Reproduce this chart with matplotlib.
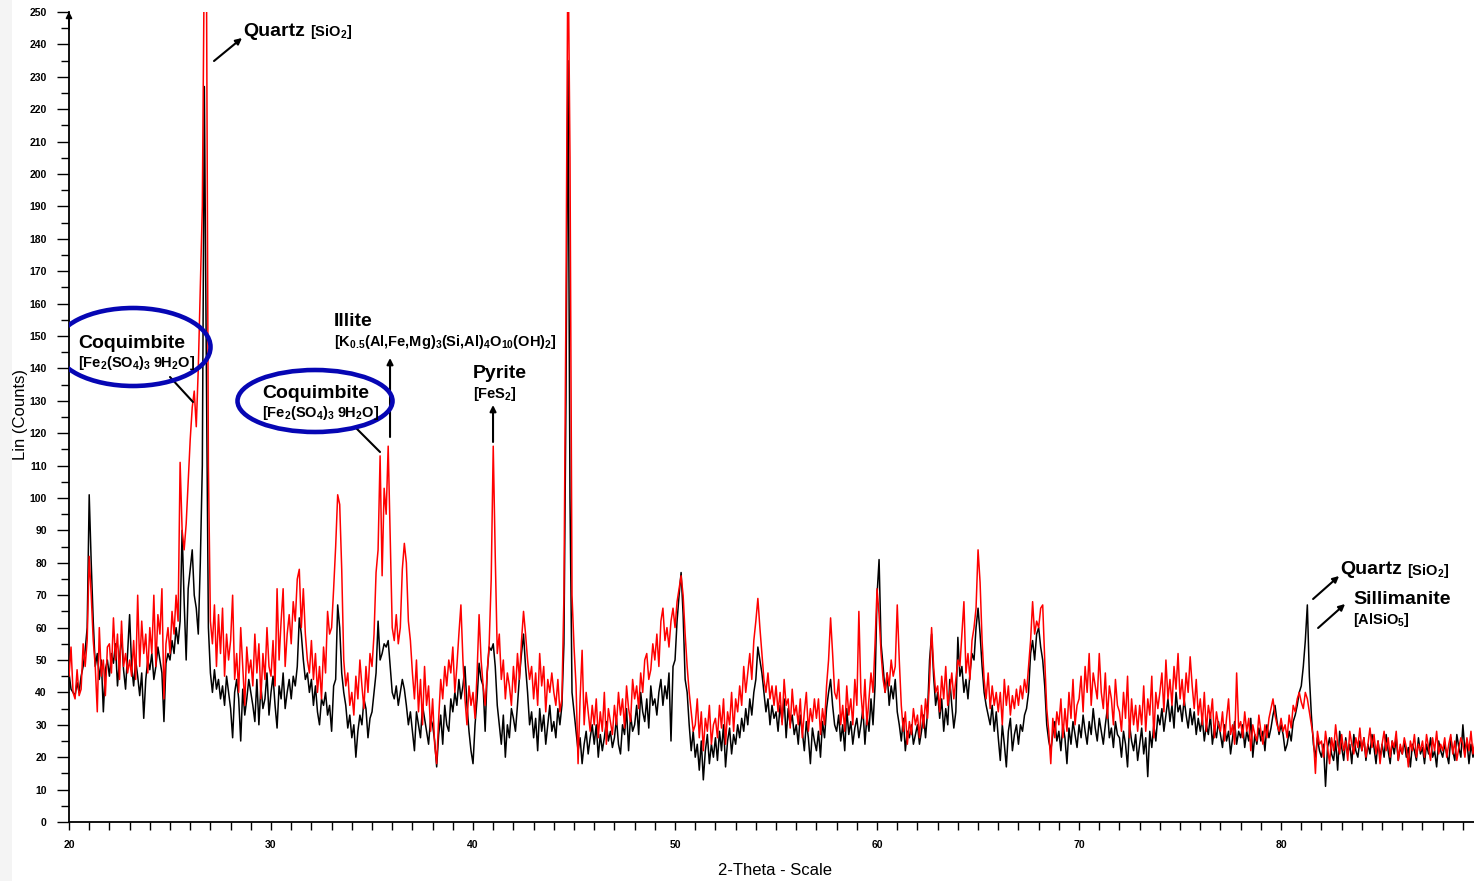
import numpy as np
import matplotlib
matplotlib.use("Agg")
import matplotlib.pyplot as plt
from matplotlib.patches import Ellipse, Rectangle
from matplotlib.ticker import MultipleLocator

plt.rcParams['font.family'] = ['Liberation Sans', 'DejaVu Sans']
plt.rcParams['mathtext.fontset'] = 'custom'
plt.rcParams['mathtext.rm'] = 'Liberation Sans:bold'
plt.rcParams['mathtext.bf'] = 'Liberation Sans:bold'
plt.rcParams['mathtext.it'] = 'Liberation Sans:bold'
plt.rcParams['mathtext.default'] = 'bf'

# ---- data: 2-theta grid starts at 20.0, step 0.1 deg; one row per degree ----
theta_start = 20.0
theta_step = 0.1

black_20s = [
    [46,41,40,39,43,40,45,48,53,60],
    [101,80,62,48,52,44,50,34,47,50],
    [45,52,49,55,42,50,58,47,41,52],
    [64,48,42,50,45,39,46,32,44,50],
    [47,52,44,48,54,50,46,31,49,52],
    [50,56,52,60,55,62,90,68,50,72],
    [78,84,70,66,58,80,110,227,140,60],
    [46,40,47,41,44,38,42,36,45,40],
    [35,26,40,44,38,25,41,33,38,44],
    [40,36,31,44,30,42,35,38,46,33],
]
black_30s = [
    [40,45,36,29,42,38,46,35,40,44],
    [38,45,42,48,63,58,50,44,46,40],
    [44,36,42,34,30,38,36,40,33,36],
    [28,42,44,67,60,46,40,36,29,33],
    [26,30,20,28,33,30,38,35,26,32],
    [34,40,46,62,50,52,55,54,56,48],
    [40,38,42,36,40,44,41,36,30,34],
    [28,22,34,30,26,36,32,28,24,32],
    [30,25,17,27,33,24,36,30,28,38],
    [34,40,36,44,38,42,48,36,28,22],
]
black_40s = [
    [18,30,38,49,44,42,28,46,54,53],
    [55,48,36,30,24,33,20,30,26,35],
    [32,28,36,45,52,58,48,40,30,34],
    [26,32,22,35,28,33,24,30,36,28],
    [31,26,35,30,36,55,130,235,100,40],
    [34,28,22,26,18,24,28,21,26,30],
    [24,30,20,27,22,26,31,25,28,23],
    [26,32,24,21,30,27,35,22,33,28],
    [30,36,27,40,34,31,38,29,42,36],
    [38,33,40,44,36,42,38,46,25,48],
]
black_50s = [
    [50,62,70,77,64,44,40,30,22,28],
    [20,24,16,25,13,22,27,18,24,20],
    [26,19,28,22,30,17,25,29,21,27],
    [24,30,26,32,28,35,30,38,33,40],
    [44,54,50,46,40,34,38,30,36,32],
    [34,28,36,31,38,26,35,30,33,27],
    [30,24,33,28,22,31,26,18,29,25],
    [22,28,20,31,26,35,40,44,36,30],
    [28,33,25,30,22,35,27,31,24,29],
    [32,26,30,35,24,33,28,38,30,42],
]
black_60s = [
    [70,81,55,48,40,46,36,42,38,44],
    [34,30,25,32,22,28,26,30,24,27],
    [30,24,28,33,26,34,50,58,45,36],
    [40,32,38,28,35,30,44,36,29,34],
    [57,45,48,40,44,38,46,52,50,60],
    [66,58,48,40,36,33,30,36,28,34],
    [26,19,30,24,17,28,32,22,27,30],
    [24,30,28,33,35,40,52,56,50,58],
    [60,54,50,42,30,25,22,27,31,25],
    [28,22,30,26,18,29,24,31,27,23],
]
black_70s = [
    [30,26,33,28,24,31,27,35,29,25],
    [32,28,24,30,35,26,29,23,31,27],
    [26,20,28,24,17,30,25,22,27,19],
    [24,29,21,26,14,28,23,30,25,33],
    [30,35,28,33,38,31,36,29,40,34],
    [36,31,38,33,29,35,30,34,27,32],
    [28,32,25,30,27,33,24,29,26,31],
    [27,23,30,25,28,21,26,31,24,28],
    [26,30,23,28,25,32,20,27,24,29],
    [25,28,22,30,26,29,33,36,31,27],
]
black_80s = [
    [30,27,22,24,28,25,31,33,36,40],
    [42,48,56,67,45,33,24,20,26,22],
    [20,24,11,23,26,21,19,25,16,28],
    [23,19,26,21,24,18,27,22,20,25],
    [22,26,19,24,21,27,23,18,25,20],
    [24,20,27,22,18,25,21,26,19,23],
    [21,25,20,23,17,24,22,19,26,21],
    [23,18,24,21,26,20,22,17,25,22],
    [20,24,21,18,26,22,19,27,23,20],
    [30,22,25,18,24,20,23,21,19,22],
]

red_20s = [
    [45,54,40,38,47,39,41,55,48,56],
    [82,70,56,48,34,60,45,50,39,54],
    [55,46,63,50,58,44,62,48,52,46],
    [50,45,56,44,70,48,62,52,58,46],
    [60,52,70,48,64,58,72,38,55,60],
    [52,65,58,70,62,111,90,84,92,105],
    [118,128,133,122,140,165,190,270,270,110],
    [62,55,67,48,64,52,66,45,58,50],
    [56,70,44,52,40,60,48,36,54,46],
    [50,42,58,46,55,38,52,44,60,48],
]
red_30s = [
    [45,56,42,72,50,62,72,48,58,64],
    [55,68,62,75,78,60,72,58,50,46],
    [56,44,52,40,48,38,54,46,65,58],
    [60,72,85,101,98,78,50,42,46,36],
    [40,33,45,38,50,42,35,48,40,52],
    [48,58,77,84,113,76,103,95,116,88],
    [60,56,64,55,60,78,86,80,62,56],
    [46,38,50,34,44,30,48,36,42,28],
    [38,24,18,32,44,38,48,42,50,46],
    [54,40,48,58,67,50,38,30,42,36],
]
red_40s = [
    [40,32,46,64,50,42,36,46,55,75],
    [116,82,52,58,44,50,38,46,42,36],
    [48,40,52,44,56,65,58,50,44,48],
    [38,46,36,52,42,48,34,44,40,46],
    [40,36,44,34,38,70,160,275,205,70],
    [54,42,18,38,53,30,40,34,28,36],
    [30,38,26,34,28,40,24,35,31,27],
    [36,30,40,33,38,29,42,35,31,44],
    [38,42,35,46,40,50,52,44,47,55],
    [50,58,48,62,66,56,60,54,62,66],
]
red_50s = [
    [60,68,72,76,70,58,48,40,34,28],
    [30,38,26,34,22,32,28,36,24,30],
    [32,26,36,29,38,24,34,30,40,28],
    [38,34,42,36,48,40,46,52,44,56],
    [62,69,60,52,44,40,46,38,42,36],
    [42,34,40,30,44,36,38,29,41,33],
    [36,30,38,26,34,40,28,35,31,38],
    [32,38,27,35,30,42,50,63,52,40],
    [38,44,30,36,28,42,33,38,30,44],
    [36,65,40,32,44,30,38,46,40,55],
]
red_60s = [
    [72,64,52,44,40,46,42,50,45,48],
    [67,50,36,28,34,24,31,27,35,30],
    [33,26,36,29,38,32,44,60,48,40],
    [42,34,45,38,48,36,40,46,38,44],
    [50,48,58,68,46,52,44,56,60,66],
    [84,74,56,44,38,46,35,42,36,40],
    [34,40,30,44,36,42,33,39,35,41],
    [36,42,38,44,40,48,56,68,58,62],
    [60,66,67,50,35,28,18,32,26,34],
    [30,38,26,35,28,40,32,44,30,36],
]
red_70s = [
    [38,45,34,48,40,52,36,46,42,38],
    [52,40,35,46,32,42,38,30,44,36],
    [34,28,40,32,45,26,38,30,36,28],
    [36,30,42,28,38,33,45,26,40,35],
    [40,46,34,50,38,44,36,48,41,52],
    [38,44,36,46,40,51,42,35,44,33],
    [38,30,40,28,36,32,38,26,34,30],
    [28,34,25,32,38,27,30,24,46,29],
    [31,26,34,28,32,22,30,27,25,33],
    [28,24,30,26,32,35,38,33,30,28],
]
red_80s = [
    [32,28,30,26,33,29,36,34,38,40],
    [37,35,40,38,34,30,26,15,28,24],
    [25,20,28,23,18,26,22,30,24,21],
    [27,22,25,19,28,24,21,26,23,29],
    [22,26,20,24,29,23,27,21,25,18],
    [24,28,22,26,20,25,23,28,19,24],
    [21,26,23,17,25,22,27,20,24,22],
    [25,20,27,23,19,26,22,28,21,24],
    [22,26,20,24,27,21,25,19,23,26],
    [24,20,26,22,28,21,25,23,20,24],
]

x_tick_labels = ['20', '30', '40', '50', '60', '70', '80']

black = np.concatenate([np.ravel(b) for b in
                        (black_20s, black_30s, black_40s, black_50s, black_60s, black_70s, black_80s)])
red = np.concatenate([np.ravel(r) for r in
                      (red_20s, red_30s, red_40s, red_50s, red_60s, red_70s, red_80s)])
theta = theta_start + theta_step * np.arange(len(black))

# ---- figure ----
W, H = 1474, 881
fig = plt.figure(figsize=(W / 100, H / 100), dpi=100)
fig.patches.append(Rectangle((0, 0), 12 / W, 1, transform=fig.transFigure,
                             facecolor='#f4f4f4', edgecolor='none', zorder=-5))
ax = fig.add_axes([69 / W, (H - 822) / H, (W - 69) / W, (822 - 12) / H])
ax.set_zorder(1)
ax.patch.set_alpha(0)

ax.plot(theta, black, color='black', lw=1.1, zorder=2)
ax.plot(theta, red, color='#ff0000', lw=1.1, zorder=3)

ax.set_xlim(20, 89.55)
ax.set_ylim(0, 250)
for s in ('top', 'right'):
    ax.spines[s].set_visible(False)
for s in ('left', 'bottom'):
    ax.spines[s].set_linewidth(1.3)

ax.xaxis.set_minor_locator(MultipleLocator(1))
ax.yaxis.set_major_locator(MultipleLocator(10))
ax.yaxis.set_minor_locator(MultipleLocator(5))
ax.set_xticks(np.arange(20, 81, 10))
ax.set_xticklabels(x_tick_labels)
ax.tick_params(axis='y', which='major', length=9, width=1, pad=7, labelsize=7.5)
ax.tick_params(axis='y', which='minor', length=6, width=1)
ax.tick_params(axis='x', which='major', length=6, width=1, pad=7, labelsize=7.5)
ax.tick_params(axis='x', which='minor', length=6, width=1)
for lab in ax.get_xticklabels() + ax.get_yticklabels():
    lab.set_fontweight('bold')

ax.set_xlabel('2-Theta - Scale', fontsize=12)
ax.set_ylabel('Lin (Counts)', fontsize=12)
ax.xaxis.set_label_coords((775 - 69) / (W - 69), -(863 - 822) / (822 - 12))
ax.yaxis.set_label_coords(-(69 - 28) / (W - 69), (822 - 415) / (822 - 12))

# y axis arrow head
ax.annotate('', xy=(0, 1.004), xytext=(0, 0.975), xycoords='axes fraction',
            arrowprops=dict(arrowstyle='-|>', color='black', lw=1.2, mutation_scale=9))


def px(x):
    return 20 + (x - 69) / 20.2


def py(y):
    return (822 - y) / 3.24


big = dict(fontsize=14, fontweight='bold', va='center', ha='left', zorder=6)
small = dict(fontsize=10.5, fontweight='bold', va='center', ha='left', zorder=6)
arrow = dict(arrowstyle='-|>', color='black', lw=1.5, mutation_scale=9, shrinkA=0, shrinkB=0)
plain = dict(arrowstyle='-', color='black', lw=1.5, shrinkA=0, shrinkB=0)
blue = '#0606b4'

# Quartz (top)
ax.text(px(243), py(31), 'Quartz', **big)
ax.text(px(310), py(32), r'[SiO$_2$]', **small)
ax.annotate('', xy=(px(242), py(38)), xytext=(px(214), py(61)), arrowprops=arrow)

# Coquimbite 1
ax.add_patch(Ellipse((px(133), py(347)), 155 / 20.2, 78 / 3.24, fill=False,
                     edgecolor=blue, lw=3.3, zorder=5))
ax.text(px(78), py(343), 'Coquimbite', **big)
ax.text(px(78), py(363), r'[Fe$_2$(SO$_4$)$_3$ 9H$_2$O]', **small)
ax.annotate('', xy=(px(193), py(402)), xytext=(px(170), py(377)), arrowprops=plain)

# Coquimbite 2
ax.add_patch(Ellipse((px(315), py(401)), 155 / 20.2, 62 / 3.24, fill=False,
                     edgecolor=blue, lw=3.3, zorder=5))
ax.text(px(262), py(393), 'Coquimbite', **big)
ax.text(px(262), py(413), r'[Fe$_2$(SO$_4$)$_3$ 9H$_2$O]', **small)
ax.annotate('', xy=(px(380), py(452)), xytext=(px(355), py(427)), arrowprops=plain)

# Illite
ax.text(px(334), py(322), 'Illite', **big)
ax.text(px(334), py(342), r'[K$_{0.5}$(Al,Fe,Mg)$_3$(Si,Al)$_4$O$_{10}$(OH)$_2$]', **small)
ax.annotate('', xy=(px(390), py(358)), xytext=(px(390), py(437)), arrowprops=arrow)

# Pyrite
ax.text(px(473), py(374), 'Pyrite', **big)
ax.text(px(473), py(394), r'[FeS$_2$]', **small)
ax.annotate('', xy=(px(493), py(405)), xytext=(px(493), py(442)), arrowprops=arrow)

# Quartz (right)
ax.text(px(1340), py(569), 'Quartz', **big)
ax.text(px(1407), py(571), r'[SiO$_2$]', **small)
ax.annotate('', xy=(px(1339), py(576)), xytext=(px(1313), py(599)), arrowprops=arrow)

# Sillimanite
ax.text(px(1353), py(600), 'Sillimanite', **big)
ax.text(px(1353), py(620), r'[AlSiO$_5$]', **small)
ax.annotate('', xy=(px(1345), py(604)), xytext=(px(1318), py(628)), arrowprops=arrow)

fig.savefig('out.png', dpi=100)
